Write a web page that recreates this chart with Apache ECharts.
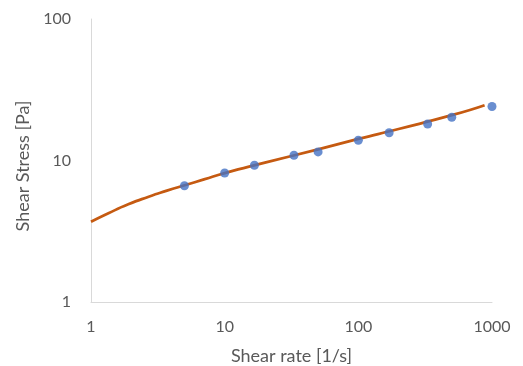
<!DOCTYPE html>
<html>
<head>
<meta charset="utf-8">
<script src="https://cdn.jsdelivr.net/npm/echarts@6/dist/echarts.min.js"></script>
<style>html,body{margin:0;padding:0;background:#fff}#c{width:523px;height:366px}</style>
</head>
<body>
<div id="c"></div>
<script>
var shearRate = [5, 10, 16.7, 33, 50, 100, 170, 330, 500, 1000];
var shearStress = [6.63, 8.16, 9.25, 10.9, 11.5, 13.9, 15.7, 18.1, 20.2, 24.1];
var fitRate = [1, 1.35, 1.9, 2.7, 3.7, 5.1, 7, 10, 20, 50, 100, 200, 500, 880];
var fitStress = [3.69, 4.24, 4.90, 5.55, 6.12, 6.71, 7.35, 8.15, 9.65, 12.0, 14.2, 16.7, 20.9, 24.6];
var xTicks = ['1', '10', '100', '1000'];
var yTicks = ['1', '10', '100'];

var font = 'Lato, "Open Sans", sans-serif';
function tickLabel(list) {
  return function (v) {
    var k = Math.round(Math.log10(v));
    return list[k] !== undefined ? list[k] : '';
  };
}
var chart = echarts.init(document.getElementById('c'));
chart.setOption({
  animation: false,
  grid: {left: 91, right: 31, top: 19, bottom: 64, containLabel: false, outerBoundsMode: 'none'},
  xAxis: {
    type: 'log', logBase: 10, min: 1, max: 1000,
    name: 'Shear rate [1/s]', nameLocation: 'middle', nameGap: 45,
    nameTextStyle: {color: '#595959', fontSize: 18, fontFamily: font},
    axisLine: {show: true, lineStyle: {color: '#d9d9d9', width: 1}},
    axisTick: {show: false},
    splitLine: {show: false},
    axisLabel: {color: '#595959', fontSize: 16, fontFamily: font, margin: 17, formatter: tickLabel(xTicks)}
  },
  yAxis: {
    type: 'log', logBase: 10, min: 1, max: 100,
    name: 'Shear Stress [Pa]', nameLocation: 'middle', nameGap: 56,
    nameTextStyle: {color: '#595959', fontSize: 18, fontFamily: font, padding: [0, 11, 0, 0]},
    axisLine: {show: true, lineStyle: {color: '#d9d9d9', width: 1}},
    axisTick: {show: false},
    splitLine: {show: false},
    axisLabel: {color: '#595959', fontSize: 16, fontFamily: font, margin: 20, formatter: tickLabel(yTicks)}
  },
  series: [
    {
      type: 'line', smooth: 0.6, symbol: 'none',
      data: fitRate.map(function (x, i) { return [x, fitStress[i]]; }),
      lineStyle: {color: '#C55A11', width: 2.75},
      z: 2
    },
    {
      type: 'scatter', symbol: 'circle', symbolSize: 9,
      data: shearRate.map(function (x, i) { return [x, shearStress[i]]; }),
      itemStyle: {color: '#4472C4'},
      z: 3
    }
  ]
});
</script>
</body>
</html>
